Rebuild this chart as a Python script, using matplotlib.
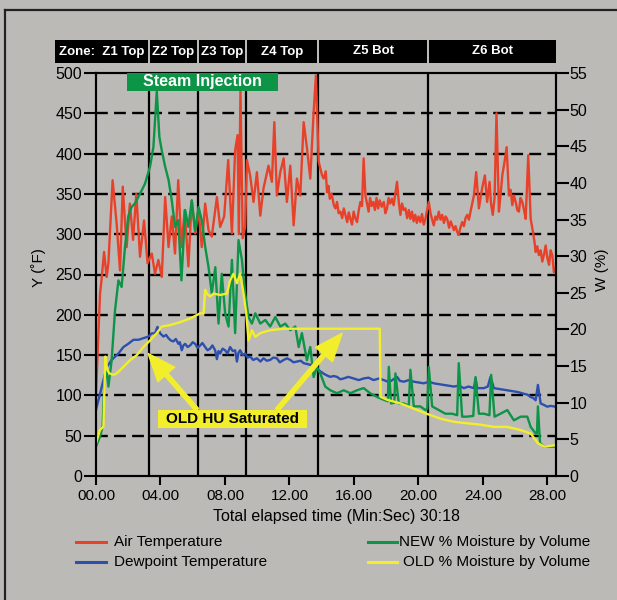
import matplotlib
matplotlib.use('Agg')
import matplotlib.pyplot as plt
from matplotlib import font_manager
from matplotlib.lines import Line2D
from matplotlib.patches import Rectangle, FancyArrowPatch
from matplotlib.transforms import blended_transform_factory

# --- data (time in minutes) ---
air_t = [0, 0.25, 0.35, 0.5, 0.66, 0.77, 1.03, 1.28, 1.49, 1.66,
         1.9, 2.1, 2.3, 2.5, 2.73, 2.98, 3.2, 3.46, 3.66, 3.87,
         4.08, 4.29, 4.5, 4.7, 4.9, 5.1, 5.3, 5.5, 5.73, 5.94,
         6.15, 6.36, 6.56, 6.77, 6.98, 7.18, 7.5, 7.7, 7.95, 8.2,
         8.43, 8.63, 8.78, 8.86, 8.96, 9.1, 9.25, 9.36, 9.56, 9.77,
         9.98, 10.19, 10.39, 10.7, 10.91, 11.06, 11.22, 11.43, 11.64, 11.84,
         12.05, 12.26, 12.46, 12.67, 12.88, 13.09, 13.29, 13.5, 13.64, 13.81,
         14.02, 14.12, 14.25, 14.33, 14.42, 14.5, 14.62, 14.75, 14.85, 14.95,
         15.05, 15.16, 15.27, 15.37, 15.47, 15.58, 15.68, 15.78, 15.88, 15.98,
         16.08, 16.19, 16.3, 16.4, 16.5, 16.6, 16.71, 16.81, 16.91, 17.0,
         17.1, 17.2, 17.3, 17.4, 17.5, 17.6, 17.72, 17.85, 17.95, 18.05,
         18.15, 18.25, 18.36, 18.46, 18.56, 18.67, 18.78, 18.88, 18.98, 19.09,
         19.19, 19.3, 19.4, 19.5, 19.6, 19.7, 19.8, 19.9, 20.0, 20.12,
         20.22, 20.33, 20.43, 20.54, 20.64, 20.75, 20.85, 20.95, 21.05, 21.16,
         21.26, 21.37, 21.47, 21.58, 21.68, 21.78, 21.9, 22.0, 22.09, 22.2,
         22.3, 22.4, 22.5, 22.6, 22.71, 22.82, 22.92, 23.03, 23.13, 23.23,
         23.44, 23.58, 23.75, 23.85, 23.95, 24.12, 24.26, 24.41, 24.5, 24.61,
         24.72, 24.84, 24.99, 25.1, 25.2, 25.34, 25.47, 25.61, 25.72, 25.82,
         25.92, 26.03, 26.13, 26.23, 26.33, 26.44, 26.55, 26.65, 26.81, 26.96,
         27.1, 27.2, 27.27, 27.37, 27.47, 27.58, 27.68, 27.79, 27.89, 28.0,
         28.1, 28.2, 28.3, 28.4, 28.5]
air_f = [102, 226, 245, 278, 247, 264, 367, 313, 255, 359,
         284, 338, 293, 350, 272, 317, 264, 276, 251, 268,
         247, 346, 284, 322, 276, 367, 284, 330, 260, 342,
         301, 330, 284, 338, 305, 297, 346, 309, 322, 392,
         301, 404, 423, 300, 478, 295, 309, 392, 373, 340,
         377, 323, 357, 385, 365, 439, 348, 377, 394, 340,
         385, 311, 369, 348, 439, 406, 369, 452, 497, 390,
         373, 369, 378, 352, 360, 344, 350, 336, 332, 340,
         326, 328, 320, 332, 324, 315, 327, 319, 312, 328,
         320, 315, 330, 340, 335, 394, 348, 338, 328, 345,
         335, 340, 330, 345, 332, 342, 334, 340, 326, 332,
         345, 338, 344, 336, 350, 365, 340, 324, 338, 330,
         332, 320, 330, 319, 328, 316, 324, 314, 322, 315,
         325, 312, 319, 330, 340, 326, 318, 311, 322, 318,
         328, 318, 324, 314, 322, 319, 308, 316, 311, 305,
         310, 303, 299, 308, 315, 310, 320, 324, 318, 328,
         348, 377, 332, 345, 357, 373, 340, 365, 338, 324,
         345, 450, 328, 350, 373, 390, 408, 348, 355, 336,
         348, 340, 330, 328, 345, 340, 330, 319, 398, 319,
         303, 290, 278, 285, 274, 280, 266, 275, 286, 270,
         262, 280, 274, 253, 258]

dew_t = [0, 0.25, 0.46, 0.7, 0.97, 1.18, 1.39, 1.7, 2.0, 2.32,
         2.63, 2.94, 3.25, 3.46, 3.66, 3.81, 3.98, 4.18, 4.35, 4.49,
         4.65, 4.8, 4.95, 5.11, 5.2, 5.32, 5.42, 5.53, 5.68, 5.84,
         6.0, 6.15, 6.3, 6.46, 6.6, 6.77, 6.92, 7.08, 7.22, 7.39,
         7.5, 7.6, 7.7, 7.85, 8.01, 8.15, 8.32, 8.48, 8.63, 8.74,
         8.84, 8.94, 9.1, 9.25, 9.4, 9.57, 9.75, 9.98, 10.2, 10.39,
         10.6, 10.8, 11.0, 11.22, 11.4, 11.64, 11.85, 12.05, 12.25, 12.46,
         12.7, 12.88, 13.1, 13.29, 13.5, 13.7, 13.9, 14.12, 14.3, 14.53,
         14.75, 14.95, 15.15, 15.36, 15.65, 15.98, 16.3, 16.6, 16.9, 17.22,
         17.55, 17.85, 18.1, 18.3, 18.67, 18.85, 19.09, 19.4, 19.71, 20.0,
         20.33, 20.65, 20.95, 21.25, 21.57, 21.9, 22.2, 22.5, 22.82, 23.1,
         23.44, 23.54, 23.65, 24.06, 24.3, 24.47, 24.68, 25.0, 25.3, 25.6,
         25.92, 26.2, 26.54, 26.75, 26.96, 27.1, 27.27, 27.41, 27.58, 27.8,
         27.99, 28.2, 28.5]
dew_f = [82, 102, 119, 136, 144, 148, 152, 160, 164, 169,
         169, 171, 173, 177, 177, 185, 177, 173, 175, 171,
         168, 167, 170, 164, 166, 156, 162, 164, 160, 162,
         166, 164, 159, 162, 165, 160, 156, 158, 162, 156,
         145, 155, 152, 158, 156, 152, 160, 155, 156, 142,
         153, 156, 150, 152, 147, 148, 144, 146, 142, 146,
         143, 144, 147, 146, 141, 144, 146, 144, 141, 142,
         143, 140, 139, 138, 136, 133, 130, 127, 125, 123,
         124, 123, 120, 121, 123, 121, 119, 121, 122, 119,
         121, 119, 117, 118, 123, 118, 117, 119, 117, 116,
         115, 117, 115, 114, 113, 112, 111, 112, 109, 111,
         109, 121, 109, 109, 111, 123, 109, 108, 107, 106,
         105, 104, 102, 101, 98, 97, 94, 113, 90, 88,
         86, 87, 86]

new_t = [0, 0.25, 0.41, 0.52, 0.62, 0.77, 0.87, 0.97, 1.18, 1.39,
         1.59, 1.8, 2.0, 2.2, 2.42, 2.63, 2.84, 3.04, 3.35, 3.56,
         3.77, 3.93, 4.08, 4.29, 4.5, 4.7, 4.9, 5.1, 5.3, 5.53,
         5.73, 5.94, 6.15, 6.36, 6.56, 6.77, 6.98, 7.18, 7.4, 7.6,
         7.8, 8.01, 8.22, 8.43, 8.63, 8.84, 9.05, 9.25, 9.46, 9.67,
         9.88, 10.19, 10.5, 10.8, 11.12, 11.43, 11.74, 12.05, 12.36, 12.57,
         12.77, 13.08, 13.29, 13.5, 13.7, 13.91, 14.22, 14.53, 14.95, 15.36,
         15.78, 16.19, 16.6, 17.0, 17.43, 17.85, 18.1, 18.16, 18.3, 18.5,
         18.57, 18.78, 19.09, 19.4, 19.5, 19.71, 20.12, 20.43, 20.55, 20.64,
         20.85, 21.26, 21.67, 22.09, 22.4, 22.5, 22.71, 23.01, 23.4, 23.54,
         23.75, 24.06, 24.4, 24.51, 24.72, 25.09, 25.51, 25.92, 26.34, 26.75,
         26.96, 27.27, 27.35, 27.41, 27.54, 27.78, 28.09, 28.5]
new_w = [4.0, 5.4, 6.7, 13.1, 14.9, 12.2, 14.0, 15.8, 22.6, 26.7,
         25.8, 31.3, 35.4, 36.7, 37.2, 38.1, 39.0, 39.9, 42.2, 44.9,
         52.5, 46.3, 44.4, 42.2, 40.4, 37.6, 34.0, 34.9, 26.7, 36.3,
         34.0, 37.6, 33.5, 36.7, 34.9, 31.3, 28.5, 24.9, 28.5, 20.8,
         27.6, 22.2, 20.4, 29.5, 19.5, 32.2, 29.5, 24.9, 21.7, 20.8,
         22.2, 20.8, 21.3, 20.4, 21.7, 20.4, 20.8, 19.9, 20.4, 17.6,
         19.5, 15.8, 17.6, 13.5, 14.9, 14.0, 12.2, 11.7, 11.3, 11.7,
         11.3, 11.7, 12.0, 11.3, 10.8, 10.4, 10.2, 14.9, 9.9, 10.0,
         14.0, 9.9, 9.9, 9.6, 14.5, 9.5, 9.5, 9.0, 9.2, 14.9,
         9.5, 9.0, 8.5, 8.5, 8.3, 15.4, 8.1, 8.1, 8.2, 13.5,
         8.5, 8.5, 8.3, 13.8, 8.1, 8.5, 9.0, 7.6, 8.1, 8.1,
         6.7, 5.8, 5.8, 9.5, 4.5, 4.0, 4.0, 4.0]

old_t = [0, 0.25, 0.46, 0.58, 0.7, 0.83, 1.08, 1.28, 1.7, 2.11,
         2.53, 2.94, 3.35, 3.77, 4.08, 4.6, 5.22, 5.84, 6.46, 6.67,
         6.77, 6.87, 7.08, 7.29, 7.7, 8.12, 8.32, 8.53, 8.74, 8.94,
         9.15, 9.32, 9.46, 9.67, 9.88, 10.19, 10.8, 11.64, 12.46, 17.6,
         17.65, 18.06, 18.9, 19.7, 20.5, 21.4, 22.2, 23.0, 23.85, 24.7,
         25.5, 26.3, 26.96, 27.4, 27.8, 28.5]
old_w = [4.5, 6.3, 6.7, 16.3, 14.5, 14.0, 13.8, 14.0, 14.9, 15.8,
         16.5, 17.6, 18.5, 19.5, 20.4, 20.6, 21.0, 21.5, 22.2, 22.2,
         25.4, 24.9, 24.5, 24.9, 24.7, 24.9, 26.7, 27.6, 26.3, 27.6,
         24.9, 22.2, 18.5, 19.9, 19.0, 19.5, 19.9, 20.1, 20.1, 20.1,
         10.8, 10.4, 9.9, 9.2, 8.5, 7.8, 7.4, 7.2, 7.0, 6.7,
         6.7, 6.3, 5.8, 4.5, 4.0, 4.2]

zone_edges = [3.29, 6.33, 9.31, 13.77, 20.6]
zone_names = ['Zone:  Z1 Top', 'Z2 Top', 'Z3 Top', 'Z4 Top', 'Z5 Bot', 'Z6 Bot']
x_ticks = [0, 4, 8, 12, 16, 20, 24, 28]
x_labels = ['00.00', '04.00', '08.00', '12.00', '16.00', '20.00', '24.00', '28.00']

BG = '#bcbab7'
RED = '#e8412a'
BLUE = '#2d4fae'
GREEN = '#0c9447'
YELLOW = '#f3ee2c'

plt.rcParams['font.family'] = ['Liberation Sans', 'DejaVu Sans']
plt.rcParams['lines.scale_dashes'] = False

names = {f.name for f in font_manager.fontManager.ttflist}
if 'Liberation Sans Narrow' in names:
    zone_font = dict(family=['Liberation Sans Narrow', 'DejaVu Sans'], size=11.5)
else:
    zone_font = dict(family=['Liberation Sans', 'DejaVu Sans'], size=9.5)


def fx(px):
    return px / 617


def fy(py):
    return 1 - py / 600


fig = plt.figure(figsize=(6.17, 6.0), dpi=100, facecolor=BG)
ax = fig.add_axes([fx(96), fy(476), fx(555.5) - fx(96), fy(73) - fy(476)])
ax.set_facecolor(BG)
ax2 = ax.twinx()

for v in range(50, 500, 50):
    ax.axhline(v, color='black', lw=1.7, ls=(0, (8.5, 4.5)), zorder=1)
for z in zone_edges:
    ax.axvline(z, color='black', lw=1.6, zorder=1.2)

ax.plot(air_t, air_f, color=RED, lw=1.7, zorder=2)
ax.plot(dew_t, dew_f, color=BLUE, lw=1.7, zorder=2.5)
ax2.plot(new_t, new_w, color=GREEN, lw=1.7, zorder=2)
ax2.plot(old_t, old_w, color=YELLOW, lw=1.7, zorder=2.5)

ax.set_xlim(0, 28.5)
ax.set_ylim(0, 500)
ax2.set_ylim(0, 55)
ax.set_xticks(x_ticks)
ax.set_xticklabels(x_labels)
ax.set_yticks(range(0, 501, 50))
ax2.set_yticks(range(0, 56, 5))

for a in (ax, ax2):
    for s in a.spines.values():
        s.set_linewidth(1.5)
ax.tick_params(axis='y', direction='out', length=9, width=1.5, pad=1, labelsize=11.5)
ax.tick_params(axis='x', direction='out', length=6.5, width=1.5, pad=2.5, labelsize=11)
ax2.tick_params(axis='y', direction='out', length=9, width=1.5, pad=1, labelsize=11.5)

# annotations (drawn on top axes, in left-axis units)
tr = ax.transData
ax2.add_patch(Rectangle((1.92, 478), 9.37, 22, facecolor=GREEN, edgecolor='none',
                        transform=tr, clip_on=False, zorder=5))
ax2.text(6.6, 489, 'Steam Injection', transform=tr, color='white', fontsize=11.5,
         fontweight='bold', ha='center', va='center', zorder=6)

for tail, tip in [((6.27, 82), (3.23, 152)), ((11.23, 82), (15.26, 177))]:
    ax2.add_patch(FancyArrowPatch(tail, tip, transform=tr, color=YELLOW,
                                  arrowstyle='simple,head_length=2.0,head_width=1.6,tail_width=0.3',
                                  mutation_scale=10, shrinkA=0, shrinkB=0, zorder=5))
ax2.add_patch(Rectangle((3.85, 59.6), 9.24, 22.3, facecolor=YELLOW, edgecolor='none',
                        transform=tr, zorder=6))
ax2.text(8.47, 70.7, 'OLD HU Saturated', transform=tr, color='black', fontsize=11,
         fontweight='bold', ha='center', va='center', zorder=7)

# zone bar above the plot
bt = blended_transform_factory(ax.transData, fig.transFigure)
edges = [-2.54] + zone_edges + [28.5]
for i, name in enumerate(zone_names):
    x0 = edges[i] + (0.06 if i > 0 else 0)
    x1 = edges[i + 1] - (0.06 if i < len(zone_names) - 1 else 0)
    fig.add_artist(Rectangle((x0, fy(63)), x1 - x0, fy(40) - fy(63), transform=bt,
                             facecolor='black', edgecolor='none'))
    if i == 0:
        fig.text(-2.3, fy(51.5), name, transform=bt, color='white', fontweight='bold',
                 ha='left', va='center', **zone_font)
    else:
        fig.text((x0 + x1) / 2, fy(51.5), name, transform=bt, color='white',
                 fontweight='bold', ha='center', va='center', **zone_font)

# axis titles
fig.text(fx(39), fy(268), 'Y (˚F)', rotation=90, ha='center', va='center', fontsize=11)
fig.text(fx(602), fy(270), 'W (%)', rotation=90, ha='center', va='center', fontsize=11)
fig.text(fx(336.5), fy(517), 'Total elapsed time (Min:Sec) 30:18', ha='center',
         va='center', fontsize=11.5)

# legend
legend_rows = [(RED, 'Air Temperature', 541.7), (BLUE, 'Dewpoint Temperature', 561.7)]
for color, label, py in legend_rows:
    fig.add_artist(Line2D([fx(76), fx(106)], [fy(py), fy(py)], color=color, lw=2.2))
    fig.text(fx(114), fy(py), label, ha='left', va='center', fontsize=11)
legend_rows = [(GREEN, 'NEW % Moisture by Volume', 541.7), (YELLOW, 'OLD % Moisture by Volume', 561.7)]
for color, label, py in legend_rows:
    fig.add_artist(Line2D([fx(368), fx(397)], [fy(py), fy(py)], color=color, lw=2.2))
    fig.text(fx(590), fy(py), label, ha='right', va='center', fontsize=11)

# frame lines of the panel
fig.add_artist(Line2D([fx(5), 1], [fy(10), fy(10)], color='#222222', lw=1.6))
fig.add_artist(Line2D([fx(5), fx(5)], [fy(10), 0], color='#222222', lw=1.6))

fig.savefig('out.png', dpi=100, facecolor=BG)
